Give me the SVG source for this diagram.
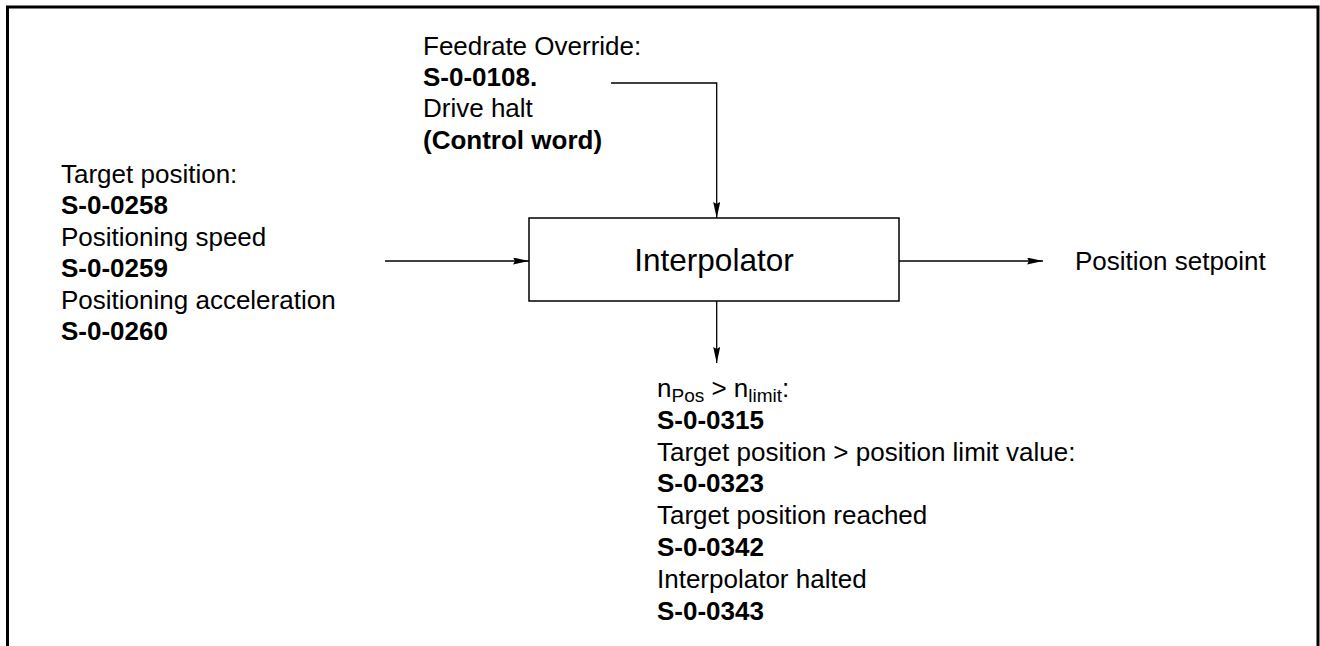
<svg xmlns="http://www.w3.org/2000/svg" width="1320" height="646" viewBox="0 0 1320 646">
  <style>
    .t { font-family: "Liberation Sans", Arial, sans-serif; font-size: 26px; fill: #000; }
    .b { font-weight: bold; }
    .sub { font-size: 19px; }
    .big { font-size: 31.5px; }
    .wire { fill: none; stroke: #000; stroke-width: 1.3; }
    .frame { fill: none; stroke: #000; stroke-width: 3; }
    .box { fill: #fff; stroke: #000; stroke-width: 1.5; }
  </style>
  <defs>
    <marker id="arrow" markerUnits="userSpaceOnUse" markerWidth="16" markerHeight="8" refX="16" refY="3.5" orient="auto">
      <path d="M0,0 L16,3.5 L0,7 L2,3.5 z" fill="#000"/>
    </marker>
  </defs>

  <rect width="1320" height="646" fill="#fff"/>
  <path class="frame" d="M7.5,646 V7 H1318 V646"/>

  <g id="connectors">
    <path class="wire" d="M385,261 H529" marker-end="url(#arrow)"/>
    <path class="wire" d="M611,83 H716.7 V218" marker-end="url(#arrow)"/>
    <path class="wire" d="M899,261 H1043" marker-end="url(#arrow)"/>
    <path class="wire" d="M716.7,301 V363" marker-end="url(#arrow)"/>
  </g>

  <g id="interpolator">
    <rect class="box" x="529" y="218" width="370" height="83"/>
    <text class="t big" x="714" y="271" text-anchor="middle">Interpolator</text>
  </g>

  <g id="inputs">
    <text class="t" x="61" y="183">Target position:</text>
    <text class="t b" x="61" y="214.4">S-0-0258</text>
    <text class="t" x="61" y="245.8">Positioning speed</text>
    <text class="t b" x="61" y="277.2">S-0-0259</text>
    <text class="t" x="61" y="308.6">Positioning acceleration</text>
    <text class="t b" x="61" y="340">S-0-0260</text>
  </g>

  <g id="override">
    <text class="t" x="423" y="54.5">Feedrate Override:</text>
    <text class="t b" x="423" y="86">S-0-0108.</text>
    <text class="t" x="423" y="117.3">Drive halt</text>
    <text class="t b" x="423" y="148.5">(Control word)</text>
  </g>

  <g id="setpoint">
    <text class="t" x="1075" y="270">Position setpoint</text>
  </g>

  <g id="status">
    <text class="t" x="657" y="397">n<tspan class="sub" dy="5">Pos</tspan><tspan dy="-5"> &gt; n</tspan><tspan class="sub" dy="5">limit</tspan><tspan dy="-5">:</tspan></text>
    <text class="t b" x="657" y="428.8">S-0-0315</text>
    <text class="t" x="657" y="460.6">Target position &gt; position limit value:</text>
    <text class="t b" x="657" y="492.4">S-0-0323</text>
    <text class="t" x="657" y="524.2">Target position reached</text>
    <text class="t b" x="657" y="556">S-0-0342</text>
    <text class="t" x="657" y="587.8">Interpolator halted</text>
    <text class="t b" x="657" y="619.6">S-0-0343</text>
  </g>
</svg>
